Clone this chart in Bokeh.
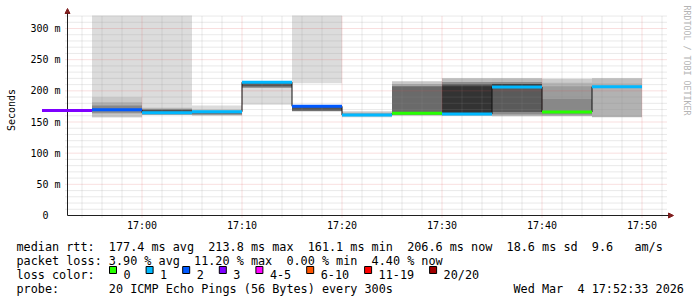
import math
from bokeh.plotting import figure
from bokeh.models import FixedTicker, Label, Arrow, NormalHead
from bokeh.embed import file_html
from bokeh.resources import INLINE
from bokeh.core.properties import value

MONO = "DejaVu Sans Mono"
NB = "\u00a0"

# ---------------- data (time = minutes relative to 17:00) ----------------
view_start, view_end = -7.45, 52.55          # 16:52:33 .. 17:52:33
step_minutes = 5
interval_start = [-10, -5, 0, 5, 10, 15, 20, 25, 30, 35, 40, 45]
median_ms = [168.5, 169.5, 165.0, 166.5, 213.8, 175.2, 161.1, 164.0, 163.0, 206.2, 166.0, 206.6]
loss_bucket = [3, 2, 1, 1, 1, 2, 1, 0, 1, 1, 0, 1]

# smoke bands (ping distribution per interval), outer to inner
smoke_start = [-5, -5, -5, -5, 0, 0, 0, 5, 5, 5, 10, 10, 10, 15, 15, 15, 20, 20,
               25, 25, 25, 30, 30, 30, 30, 35, 35, 35, 35, 40, 40, 40, 40, 45, 45]
smoke_lo = [157.7, 157.7, 163.2, 165.0, 161.5, 161.5, 162.5, 160.0, 161.0, 162.0,
            177.6, 204.5, 207.0, 212.3, 167.3, 168.5, 157.7, 159.5,
            160.4, 161.0, 162.0, 160.4, 161.0, 162.0, 163.0, 159.3, 162.0, 166.0, 206.0,
            159.3, 160.0, 161.0, 163.0, 157.7, 158.0]
smoke_hi = [330.0, 189.8, 181.8, 176.5, 330.0, 173.0, 170.0, 176.5, 170.0, 165.5,
            212.5, 212.5, 212.5, 330.0, 175.0, 174.0, 167.3, 165.0,
            215.5, 211.0, 207.4, 220.3, 214.0, 210.5, 207.4, 220.3, 214.0, 211.0, 211.0,
            219.3, 213.0, 207.4, 187.0, 220.3, 212.0]
smoke_shade = [220, 200, 176, 136, 220, 184, 80, 220, 192, 112, 220, 154, 85, 220, 140, 85,
               208, 168, 200, 168, 106, 189, 142, 85, 51, 187, 140, 90, 51,
               204, 180, 156, 136, 190, 178]

loss_labels = ["0", "1", "2", "3", "4-5", "6-10", "11-19", "20/20"]
loss_colors = ["#26ff00", "#00b8ff", "#0059ff", "#7e00ff", "#ff00ff", "#ff5500", "#ff0000", "#a10000"]

x_ticks = [0, 10, 20, 30, 40, 50]
x_tick_labels = ["17:00", "17:10", "17:20", "17:30", "17:40", "17:50"]
y_ticks = [0, 50, 100, 150, 200, 250, 300]
y_tick_labels = ["0" + NB + NB, "50 m", "100 m", "150 m", "200 m", "250 m", "300 m"]

legend_rows = [
    "median rtt:  177.4 ms avg  213.8 ms max  161.1 ms min  206.6 ms now  18.6 ms sd  9.6   am/s",
    "packet loss: 3.90 % avg  11.20 % max  0.00 % min  4.40 % now",
    "loss color:",
    "probe:       20 ICMP Echo Pings (56 Bytes) every 300s",
]
stamp = "Wed Mar  4 17:52:33 2026"
watermark = "RRDTOOL / TOBI OETIKER"

# ---------------- geometry ----------------
W = 697
main_h = 232
px_per_min = 10.0
px_per_ms = 187.0 / 300.0
axis_x_px, axis_y_px = 67, 215        # where the axes cross (canvas px)
frame_left, frame_bottom = 63, 219    # frame spans x 63..697, y 0..219
frame_w = W - frame_left
frame_h = frame_bottom
x0 = view_start - (axis_x_px - frame_left) / px_per_min
x1 = x0 + frame_w / px_per_min
y0 = -(frame_bottom - axis_y_px) / px_per_ms
y1 = y0 + frame_h / px_per_ms
y_top = 200 / px_per_ms               # top of the graph area

p = figure(frame_width=frame_w, frame_height=frame_h, x_range=(x0, x1), y_range=(y0, y1),
           output_backend="svg", toolbar_location=None,
           min_border_left=frame_left, min_border_right=0, min_border_top=0,
           min_border_bottom=main_h - frame_h,
           background_fill_color="white", border_fill_color="white",
           outline_line_color=None)
p.xgrid.visible = False
p.ygrid.visible = False

# smoke
smoke_right = [s + step_minutes for s in smoke_start]
smoke_top = [min(h, y_top) for h in smoke_hi]
smoke_colors = ["#%02x%02x%02x" % (g, g, g) for g in smoke_shade]
p.quad(left=smoke_start, right=smoke_right, bottom=smoke_lo, top=smoke_top,
       fill_color=smoke_colors, line_color=None)

# grid (dotted, drawn above the smoke as rrdtool does)
x_minor = [m for m in range(-6, 53, 2) if m % 10]
y_minor = [v for v in range(10, 321, 10) if v % 50]
stub_y = -2 / px_per_ms
stub_x = view_start - 2 / px_per_min
minor_style = dict(line_color="#8f8f8f", line_alpha=0.38, line_width=1, line_dash="1 1")
major_style = dict(line_color="#de5050", line_alpha=0.36, line_width=1, line_dash="1 1")
p.segment(x0=x_minor, x1=x_minor, y0=[stub_y] * len(x_minor), y1=[y_top] * len(x_minor),
          **minor_style)
p.segment(x0=[stub_x] * len(y_minor), x1=[view_end] * len(y_minor), y0=y_minor, y1=y_minor,
          **minor_style)
p.segment(x0=x_ticks, x1=x_ticks, y0=[stub_y] * len(x_ticks), y1=[y_top] * len(x_ticks),
          **major_style)
p.segment(x0=[stub_x] * (len(y_ticks) - 1), x1=[view_end] * (len(y_ticks) - 1),
          y0=y_ticks[1:], y1=y_ticks[1:], **major_style)

# median line
step_x = interval_start + [interval_start[-1] + step_minutes]
step_y = median_ms + [median_ms[-1]]
p.step(x=step_x, y=step_y, mode="after", line_color="#101010", line_width=1, level="overlay")
seg_end = [s + step_minutes for s in interval_start]
p.segment(x0=interval_start, x1=seg_end, y0=median_ms, y1=median_ms,
          line_color=[loss_colors[b] for b in loss_bucket], line_width=3, level="overlay")

# axes: tick labels from bokeh axes, axis lines with arrow heads
p.xaxis.ticker = FixedTicker(ticks=x_ticks, minor_ticks=[])
p.yaxis.ticker = FixedTicker(ticks=y_ticks, minor_ticks=[])
p.xaxis.major_label_overrides = dict(zip(x_ticks, x_tick_labels))
p.yaxis.major_label_overrides = dict(zip(y_ticks, y_tick_labels))
for ax in (p.xaxis[0], p.yaxis[0]):
    ax.axis_line_color = None
    ax.major_tick_line_color = None
    ax.minor_tick_line_color = None
    ax.major_tick_in = 0
    ax.major_tick_out = 0
    ax.minor_tick_in = 0
    ax.minor_tick_out = 0
    ax.major_label_text_font = MONO
    ax.major_label_text_font_size = "10px"
    ax.major_label_text_color = "#000000"
p.xaxis.major_label_standoff = 0
p.yaxis.major_label_standoff = 3
p.yaxis.axis_label = "Seconds"
p.yaxis.axis_label_text_font = MONO
p.yaxis.axis_label_text_font_size = "10px"
p.yaxis.axis_label_text_font_style = "normal"
p.yaxis.axis_label_text_color = "#000000"
p.yaxis.axis_label_standoff = 10

arrow_y_tip = (axis_y_px - 8) / px_per_ms
arrow_x_tip = view_start + (673 - axis_x_px) / px_per_min
head = dict(size=5, fill_color="#801f1f", line_color="#801f1f")
p.add_layout(Arrow(x_start=view_start, y_start=0, x_end=view_start, y_end=arrow_y_tip,
                   line_color="#1f1f1f", line_width=1, end=NormalHead(**head)))
p.add_layout(Arrow(x_start=view_start, y_start=0, x_end=arrow_x_tip, y_end=0,
                   line_color="#1f1f1f", line_width=1, end=NormalHead(**head)))

p.add_layout(Label(x=686.5 - frame_left, y=frame_bottom - 5, x_units="screen", y_units="screen",
                   text=watermark, angle=-math.pi / 2, text_align="left",
                   text_baseline="middle", text_font=MONO, text_font_size="8.3px",
                   text_color="#b4b4b4"))

# ---------------- legend / comments (separate root below the graph) ----------------
leg_h = 297 - main_h
leg = figure(width=W, height=leg_h, x_range=(0, W), y_range=(leg_h, 0),
             output_backend="svg", toolbar_location=None, min_border=0,
             x_axis_location=None, y_axis_location=None, outline_line_color=None,
             background_fill_color="white", border_fill_color="white")
leg.xgrid.visible = False
leg.ygrid.visible = False

char_w = 7.1
row_base = [245.6 - main_h, 259.5 - main_h, 273.4 - main_h, 287.3 - main_h]
leg.text(x=[16] * 4 + [16 + 70 * char_w], y=row_base + [row_base[3]],
         text=[r.replace(" ", NB) for r in legend_rows] + [stamp.replace(" ", NB)],
         text_font=value(MONO), text_font_size="11.8px", text_baseline="alphabetic",
         text_align="left", text_color="#000000")

sq_left, lab_x = [], []
cur = 109.0
for lab in loss_labels:
    sq_left.append(cur)
    lab_x.append(cur + 14)
    cur = cur + 14 + len(lab) * char_w + 15.5
leg.rect(x=[s + 3.5 for s in sq_left], y=[row_base[2] - 4.9] * len(loss_labels),
         width=7, height=7, fill_color=loss_colors, line_color="#000000", line_width=1)
leg.text(x=lab_x, y=[row_base[2]] * len(loss_labels), text=loss_labels,
         text_font=value(MONO), text_font_size="11.8px", text_baseline="alphabetic",
         text_align="left", text_color="#000000")

open("out.html", "w").write(file_html([p, leg], INLINE))
